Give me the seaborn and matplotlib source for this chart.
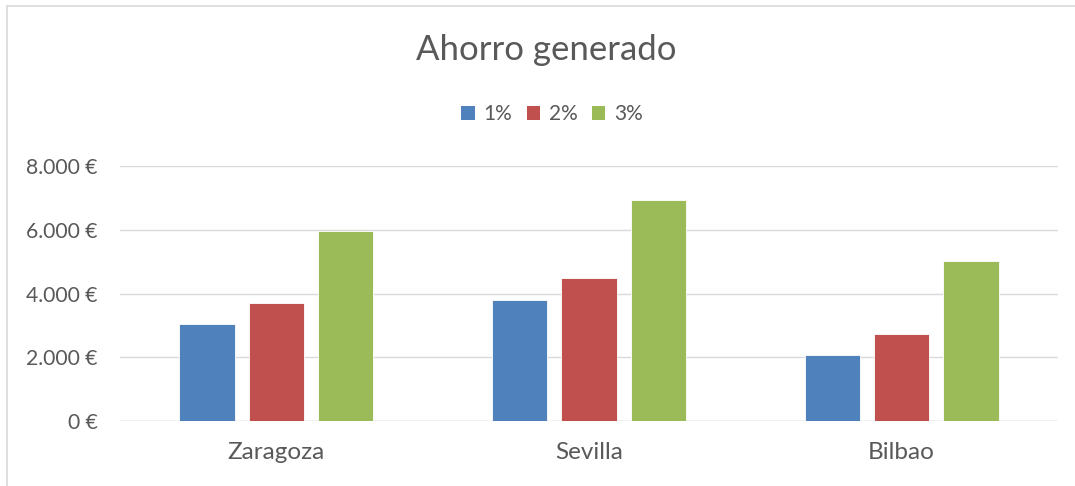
import matplotlib
matplotlib.use("Agg")
import matplotlib.pyplot as plt
import seaborn as sns
import pandas as pd
from matplotlib.ticker import FuncFormatter
from matplotlib.lines import Line2D
from matplotlib.patches import Patch

cities = ["Zaragoza", "Sevilla", "Bilbao"]
rates = ["1%", "2%", "3%"]
v1 = [3050, 3800, 2080]
v2 = [3690, 4490, 2730]
v3 = [5950, 6930, 5020]
colors = ["#4F81BD", "#C0504D", "#9BBB59"]
title = "Ahorro generado"

rows = []
for r, vals in zip(rates, [v1, v2, v3]):
    for c, v in zip(cities, vals):
        rows.append({"city": c, "rate": r, "value": v})
df = pd.DataFrame(rows)

sns.set_theme(style="white")
plt.rcParams["font.family"] = ["Lato", "DejaVu Sans"]

W, H = 1075, 486
fig = plt.figure(figsize=(W / 100, H / 100), dpi=100)
ax = fig.add_axes([120 / W, (H - 421) / H, (1058 - 120) / W, (421 - 166) / H])

sns.barplot(data=df, x="city", y="value", hue="rate", palette=colors,
            width=0.665, gap=0.2, ax=ax, legend=False, saturation=1,
            edgecolor="#ffffff", linewidth=0.6, zorder=3)

ax.set_ylim(0, 8000)
ax.set_yticks([0, 2000, 4000, 6000, 8000])
ax.yaxis.set_major_formatter(FuncFormatter(lambda v, p: f"{int(v):,} €".replace(",", ".")))
ax.grid(axis="y", color="#D9D9D9", linewidth=1.0, zorder=0)
ax.set_axisbelow(True)
for s in ["top", "right", "left", "bottom"]:
    ax.spines[s].set_visible(False)
ax.axhline(0, color="#D9D9D9", linewidth=1.0, zorder=2)
ax.set_xlabel("")
ax.set_ylabel("")
ax.tick_params(axis="y", labelsize=15.2, labelcolor="#595959", length=0, pad=16)
ax.tick_params(axis="x", labelsize=17.5, labelcolor="#595959", length=0, pad=15)

fig.text(546.5 / W, (H - 50) / H, title, ha="center", va="center", fontsize=25, color="#595959")

handles = [Patch(facecolor=c, edgecolor="none") for c in colors]
fig.legend(handles, rates, loc="center", bbox_to_anchor=(552 / W, (H - 114) / H),
           ncol=3, frameon=False, fontsize=15, labelcolor="#595959",
           handlelength=0.65, handleheight=0.65, handletextpad=0.4, columnspacing=0.7)

fig.add_artist(Line2D([7 / W, 7 / W], [0, (H - 6) / H], color="#D9D9D9", linewidth=1.2))
fig.add_artist(Line2D([7 / W, 1], [(H - 6) / H, (H - 6) / H], color="#D9D9D9", linewidth=1.2))

fig.savefig("out.png", dpi=100, facecolor="white")
